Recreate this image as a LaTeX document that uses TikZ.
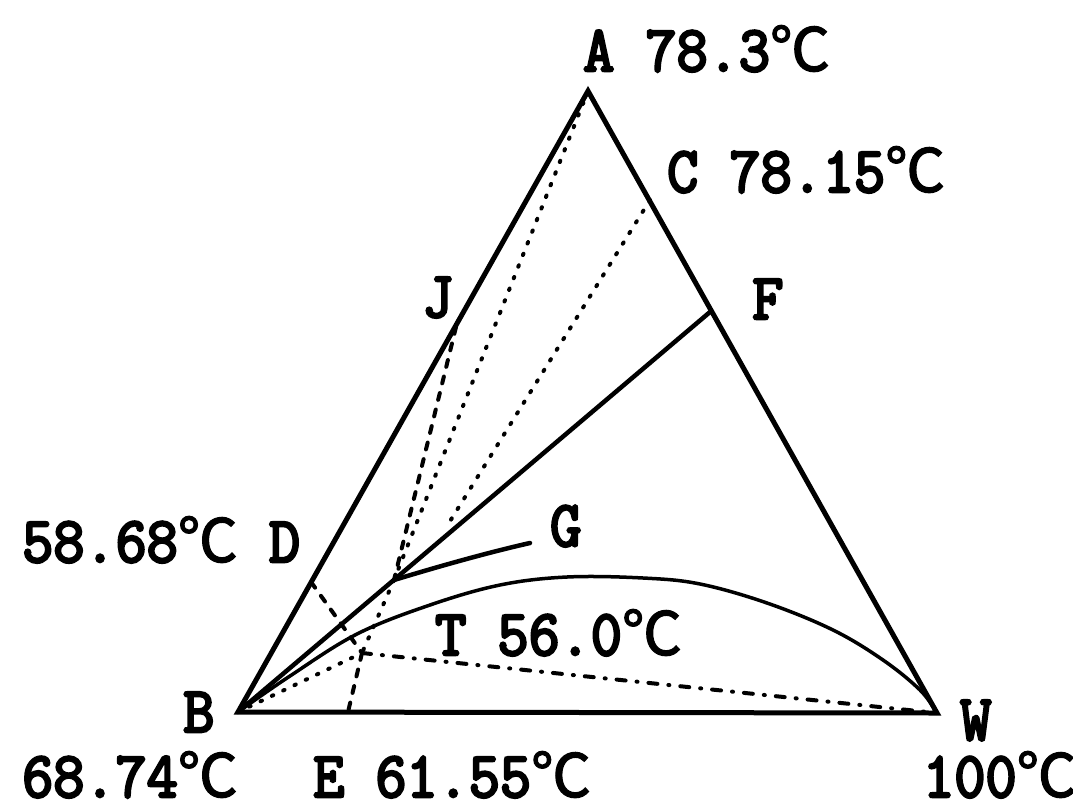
\documentclass[tikz,border=0pt]{standalone}
\usepackage{fontspec}
\newfontfamily\labfont[FakeStretch=0.93, FakeBold=4]{Latin Modern Mono}
\newfontfamily\cjk[FakeBold=2]{Noto Sans CJK SC}
\newcommand\dC{{\cjk\fontsize{60}{60}\selectfont ℃}}
\tikzset{
  edge/.style={line width=5pt, line join=miter},
  solidln/.style={line width=4.5pt, line cap=round},
  curveln/.style={line width=3.5pt, line cap=round},
  dotln/.style={line width=4pt, line cap=round, dash pattern=on 1.5pt off 11pt},
  dashln/.style={line width=4pt, line cap=round, dash pattern=on 7pt off 10pt},
  dashdotln/.style={line width=4pt, line cap=round, dash pattern=on 9pt off 11pt on 1pt off 11pt},
  lab/.style={inner sep=0pt, anchor=base west, text depth=0pt, font={\fontsize{65}{65}\labfont}}
}
\begin{document}
\begin{tikzpicture}[x=1pt,y=-1pt]
\useasboundingbox[fill=white] (0,0) rectangle (1073,809);
% vertices and points
\coordinate (A) at (588,91);
\coordinate (B) at (238,712);
\coordinate (W) at (937,713);
\coordinate (C) at (650,200);
\coordinate (F) at (710,312);
\coordinate (J) at (456,327);
\coordinate (D) at (311,582);
\coordinate (E) at (348,712);
\coordinate (P) at (394,580);
\coordinate (T) at (362,653);
\coordinate (G) at (530,543);
\coordinate (Cend) at (447,526);
% triangle
\draw[edge] (A) -- (W) -- (B) -- cycle;
% solid lines
\draw[solidln] (B) -- (F);
\draw[solidln] (P) .. controls (440,566) and (490,552) .. (G);
% binodal curve
\draw[curveln] plot[smooth, tension=0.6] coordinates {(B) (290,676) (357,634) (430,605) (500,585) (567,577) (643,578) (700,584) (767,603) (833,630) (883,660) (920,690) (W)};
% dotted / dashed lines
\draw[dotln] (A) -- (P);
\draw[dotln] (C) -- (Cend);
\draw[dashln] (J) -- (P);
\draw[dotln] (P) -- (T);
\draw[dotln] (B) -- (T);
\draw[dashln] (D) -- (T);
\draw[dashln] (T) -- (E);
\draw[dashdotln] (T) -- (W);
% labels
\node[lab] (lA) at (583,71) {A 78.3\dC};
\node[lab] (lC) at (667,192) {C 78.15\dC};
\node[lab] (lF) at (752,319) {F};
\node[lab] (lJ) at (422,317) {J};
\node[lab] (lD) at (22,562) {58.68\dC{} D};
\node[lab] (lG) at (550,546) {G};
\node[lab] (lT) at (435,655) {T 56.0\dC};
\node[lab] (lB) at (183,732) {B};
\node[lab] (lW) at (960,740) {W};
\node[lab] (lBt) at (22,797) {68.74\dC};
\node[lab] (lE) at (313,797) {E 61.55\dC};
\node[lab] (lWt) at (923,797) {100\dC};
\end{tikzpicture}
\end{document}
